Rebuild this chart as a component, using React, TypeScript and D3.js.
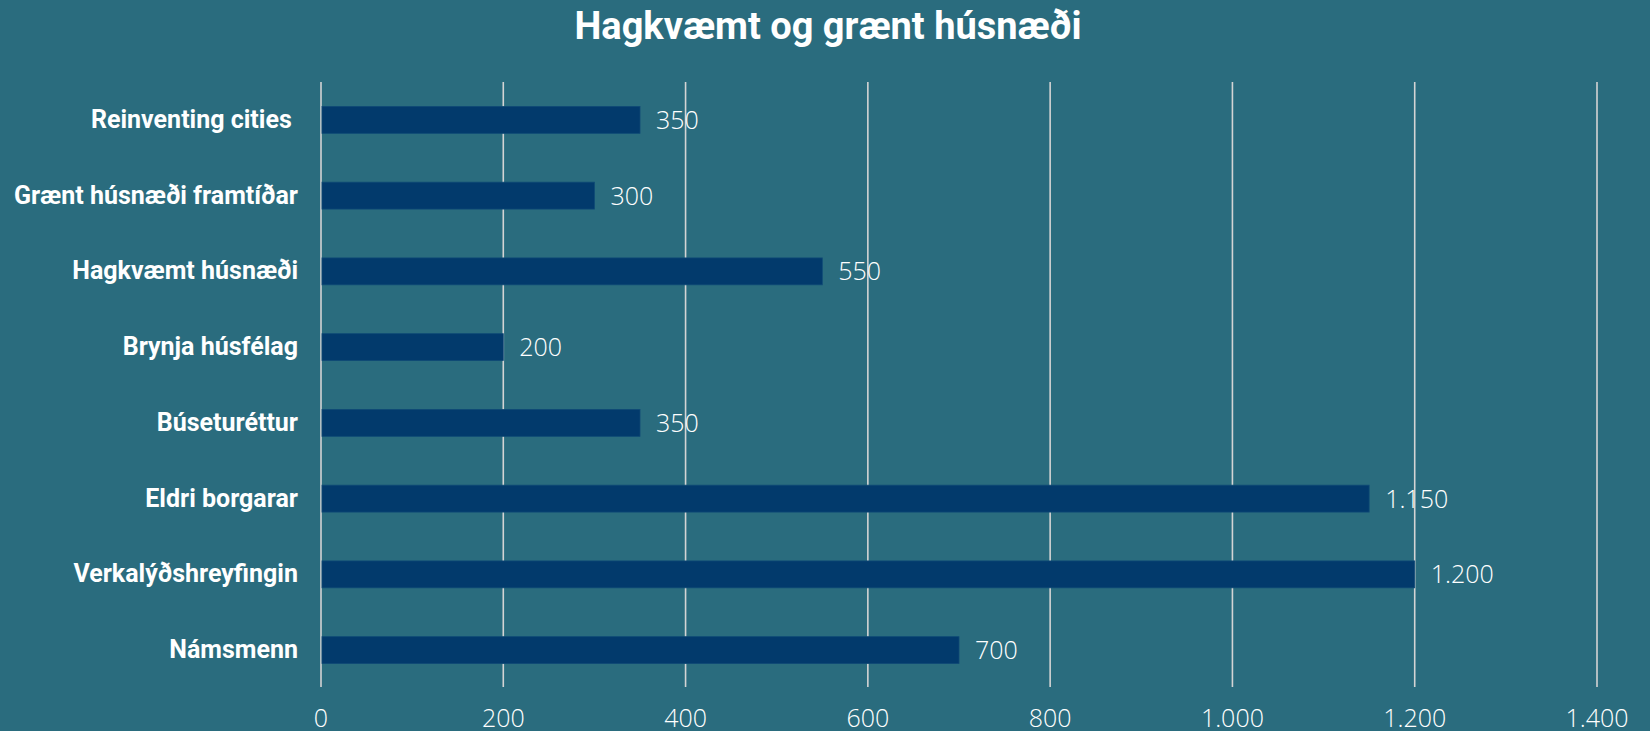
import React from 'react';
import * as d3 from 'd3';

const categories = [
  'Reinventing cities ',
  'Grænt húsnæði framtíðar',
  'Hagkvæmt húsnæði',
  'Brynja húsfélag',
  'Búseturéttur',
  'Eldri borgarar',
  'Verkalýðshreyfingin',
  'Námsmenn',
];
const values = [350, 300, 550, 200, 350, 1150, 1200, 700];
const ticks = [0, 200, 400, 600, 800, 1000, 1200, 1400];

const W = 1650;
const H = 731;
const margin = { top: 82, right: 53, bottom: 43, left: 321 };

const fmt = (v: number) => d3.format(',')(v).replace(/,/g, '.');

const App: React.FC = () => {
  const x = d3.scaleLinear().domain([0, 1400]).range([margin.left, W - margin.right]);
  const y = d3.scaleBand()
    .domain(categories)
    .range([margin.top, H - margin.bottom])
    .paddingInner(0.645)
    .paddingOuter(0.3225);

  const font = 'Roboto, "Noto Sans", sans-serif';
  const light = '"Open Sans", sans-serif';

  return (
    <div style={{ position: 'absolute', left: 0, top: 0 }}>
      <svg width={W} height={H} viewBox={`0 0 ${W} ${H}`} style={{ display: 'block' }}>
        <rect x={0} y={0} width={W} height={H} fill="#2a6c7e" />

        <text x={828} y={39} textAnchor="middle" fill="#ffffff"
          style={{ fontFamily: font, fontWeight: 700, fontSize: 38 }}>
          Hagkvæmt og grænt húsnæði
        </text>

        {/* gridlines */}
        {ticks.map(t => (
          <line key={t} x1={x(t)} x2={x(t)} y1={margin.top} y2={H - margin.bottom - 1}
            stroke="#d4d4d4" strokeWidth={1.6} />
        ))}

        {/* bars */}
        {categories.map((c, i) => (
          <rect key={c} x={x(0) + 1} y={y(c)!} width={x(values[i]) - x(0) - 1} height={y.bandwidth()}
            fill="#023a6c" stroke="#0f4a76" strokeWidth={0.8} />
        ))}

        {/* value labels */}
        {categories.map((c, i) => (
          <text key={c} x={x(values[i]) + 16} y={y(c)! + y.bandwidth() / 2 + 9} fill="#ffffff"
            style={{ fontFamily: light, fontWeight: 300, fontSize: 25 }}>
            {fmt(values[i])}
          </text>
        ))}

        {/* category labels */}
        {categories.map(c => (
          <text key={c} x={298} y={y(c)! + y.bandwidth() / 2 + 8} textAnchor="end" fill="#ffffff"
            style={{ fontFamily: font, fontWeight: 700, fontSize: 25, whiteSpace: 'pre' }}>
            {c}
          </text>
        ))}

        {/* x tick labels */}
        {ticks.map(t => (
          <text key={t} x={x(t)} y={727} textAnchor="middle" fill="#ffffff"
            style={{ fontFamily: light, fontWeight: 300, fontSize: 25 }}>
            {fmt(t)}
          </text>
        ))}
      </svg>
    </div>
  );
};

export default App;
